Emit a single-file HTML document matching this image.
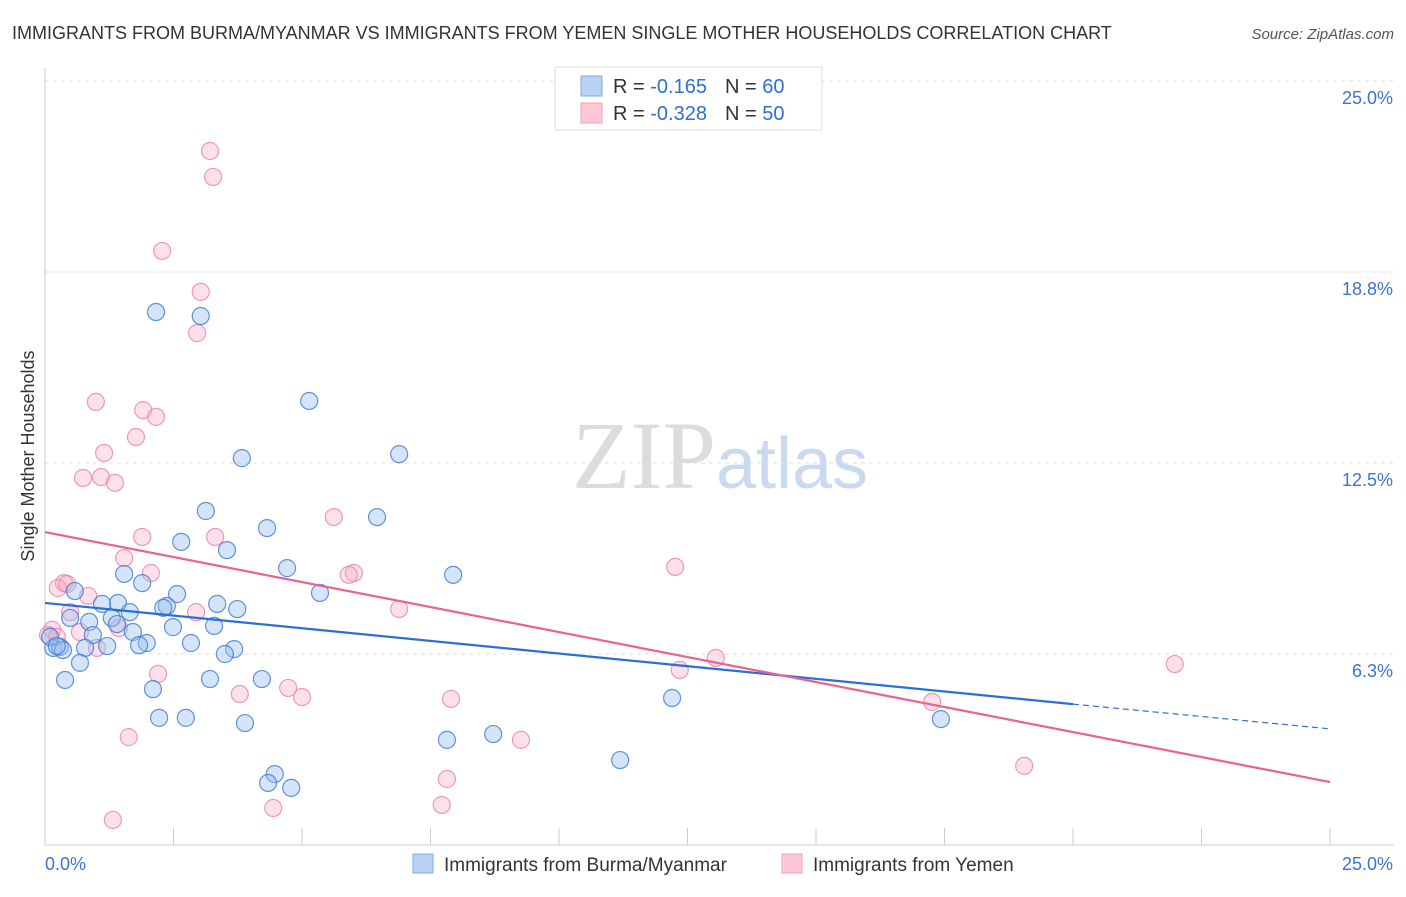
<!DOCTYPE html>
<html><head><meta charset="utf-8"><style>
body{margin:0;background:#fff;font-family:"Liberation Sans",sans-serif;}
svg text{font-family:"Liberation Sans",sans-serif;}
</style></head><body>
<svg id="chart" width="1406" height="892" xmlns="http://www.w3.org/2000/svg">
<text x="12" y="39" font-size="18" fill="#333">IMMIGRANTS FROM BURMA/MYANMAR VS IMMIGRANTS FROM YEMEN SINGLE MOTHER HOUSEHOLDS CORRELATION CHART</text>
<text x="1394" y="39" font-size="15" fill="#555" text-anchor="end" font-style="italic">Source: ZipAtlas.com</text>
<text x="720" y="488" font-size="96" text-anchor="middle"><tspan fill="#dcdcdc" font-family="Liberation Serif">ZIP</tspan><tspan fill="#c9d9f0" font-size="72">atlas</tspan></text>
<text transform="translate(34,456) rotate(-90)" font-size="18" fill="#333" text-anchor="middle">Single Mother Households</text>
<g id="grid"></g><g id="axes"></g><g id="marks"></g>
<g>
<rect x="555" y="67" width="267" height="63" fill="#fff" stroke="#ddd"/>
<rect x="581" y="76" width="21" height="20" fill="#b8d2f5" stroke="#7ea9e6"/>
<rect x="581" y="103" width="21" height="20" fill="#fcc8d6" stroke="#f0a0b8"/>
<text x="613" y="93" font-size="20" fill="#333">R = <tspan fill="#2f6fd0"> -0.165</tspan><tspan dx="18">N = </tspan><tspan fill="#2f6fd0">60</tspan></text>
<text x="613" y="120" font-size="20" fill="#333">R = <tspan fill="#2f6fd0">-0.328</tspan><tspan dx="18">N = </tspan><tspan fill="#2f6fd0">50</tspan></text>
</g>
<g>
<rect x="413" y="854" width="20" height="19" fill="#b8d2f5" stroke="#7ea9e6"/>
<text x="444" y="871" font-size="19" fill="#333">Immigrants from Burma/Myanmar</text>
<rect x="782" y="854" width="20" height="19" fill="#fcc8d6" stroke="#f0a0b8"/>
<text x="813" y="871" font-size="19" fill="#333">Immigrants from Yemen</text>
</g>
</svg>
<script>
const yTicks=[25,18.8,12.5,6.3];
const yTickLabels=["25.0%","18.8%","12.5%","6.3%"];
const blueX=[2.16,3.03,5.14,6.89,3.83,3.13,6.46,4.32,2.65,3.54,4.71,7.94,1.54,1.89,2.57,5.35,0.58,1.42,1.11,3.35,2.37,2.30,3.74,1.65,0.49,1.30,0.86,2.49,1.40,3.29,1.71,0.93,1.98,1.83,2.84,3.68,3.50,1.21,0.78,0.16,0.29,0.35,0.68,0.39,3.21,4.22,2.10,12.20,2.22,2.74,3.89,17.43,8.72,7.82,11.19,4.47,4.34,4.79,0.10,0.23];
const blueY=[17.44,17.31,14.53,12.79,12.66,10.93,10.73,10.37,9.92,9.65,9.06,8.84,8.87,8.57,8.21,8.25,8.31,7.92,7.89,7.89,7.82,7.76,7.72,7.62,7.43,7.43,7.30,7.13,7.23,7.17,6.97,6.87,6.61,6.54,6.61,6.41,6.25,6.51,6.45,6.45,6.48,6.38,5.96,5.40,5.43,5.43,5.10,4.81,4.16,4.16,3.99,4.12,3.63,3.44,2.78,2.32,2.03,1.87,6.81,6.51];
const pinkX=[3.21,3.27,2.28,3.03,2.96,0.99,1.91,2.16,1.77,1.15,0.74,1.09,1.36,5.62,1.89,3.31,1.54,2.06,6.01,5.91,12.26,0.37,0.25,0.43,0.84,0.49,2.94,6.89,1.44,0.68,0.14,0.23,1.01,13.05,12.35,21.98,2.20,3.79,4.73,5.00,7.90,17.26,1.63,9.26,7.82,4.44,7.72,19.05,1.32,0.06];
const pinkY=[22.71,21.86,19.44,18.10,16.75,14.50,14.23,14.01,13.35,12.83,12.01,12.04,11.85,10.73,10.08,10.08,9.39,8.90,8.90,8.84,9.10,8.57,8.41,8.54,8.15,7.62,7.62,7.72,7.10,6.97,7.04,6.81,6.45,6.12,5.73,5.92,5.60,4.94,5.14,4.84,4.78,4.68,3.53,3.44,2.16,1.21,1.31,2.59,0.82,6.87];
const blueTrend=[[0,7.92],[20,4.61],[25,3.80]];
const pinkTrend=[[0,10.24],[25,2.06]];
const NS="http://www.w3.org/2000/svg";
const X=v=>45+v/25*1285, Y=v=>845-v/6.25*191;
function mk(t,a,p){const e=document.createElementNS(NS,t);for(const k in a)e.setAttribute(k,a[k]);p.appendChild(e);return e;}
const grid=document.getElementById('grid'),axes=document.getElementById('axes'),marks=document.getElementById('marks');
yTicks.forEach((t,i)=>{const yy=Y(t===18.8?18.75:t===6.3?6.25:t);
const l=mk('line',{x1:45,x2:1394,y1:yy,y2:yy,stroke:'#ddd','stroke-dasharray':'4,4'},grid);

const tx=mk('text',{x:1393,y:yy+23,'font-size':18,fill:'#3a74d0','text-anchor':'end'},axes);tx.textContent=yTickLabels[i];
});
let a=mk('line',{x1:45,x2:45,y1:68,y2:845,stroke:'#ccc'},axes);
a=mk('line',{x1:45,x2:1394,y1:845,y2:845,stroke:'#ccc'},axes);
for(let i=0;i<=10;i++){const t=mk('line',{x1:X(i*2.5),x2:X(i*2.5),y1:828,y2:845,stroke:'#ccc'},axes);}
let tl=mk('text',{x:45,y:870,'font-size':18,fill:'#3a74d0'},axes);tl.textContent='0.0%';
tl=mk('text',{x:1393,y:870,'font-size':18,fill:'#3a74d0','text-anchor':'end'},axes);tl.textContent='25.0%';
function pts(xs,ys,fill,stroke,name){xs.forEach((v,i)=>{const c=mk('circle',{cx:X(v),cy:Y(ys[i]),r:8.5,fill:fill,stroke:stroke,'stroke-width':1.2},marks);
});}
pts(pinkX,pinkY,'rgba(248,170,195,0.35)','rgba(235,130,165,0.8)','yemen-point');
pts(blueX,blueY,'rgba(150,190,240,0.4)','rgba(60,120,210,0.8)','burma-point');
let l=mk('line',{x1:X(blueTrend[0][0]),y1:Y(blueTrend[0][1]),x2:X(blueTrend[1][0]),y2:Y(blueTrend[1][1]),stroke:'#2a6fd6','stroke-width':2.2},marks);

l=mk('line',{x1:X(blueTrend[1][0]),y1:Y(blueTrend[1][1]),x2:X(blueTrend[2][0]),y2:Y(blueTrend[2][1]),stroke:'#2a6fd6','stroke-width':1.2,'stroke-dasharray':'6,4'},marks);

l=mk('line',{x1:X(pinkTrend[0][0]),y1:Y(pinkTrend[0][1]),x2:X(pinkTrend[1][0]),y2:Y(pinkTrend[1][1]),stroke:'#e8638f','stroke-width':2.2},marks);

</script>
</body></html>
